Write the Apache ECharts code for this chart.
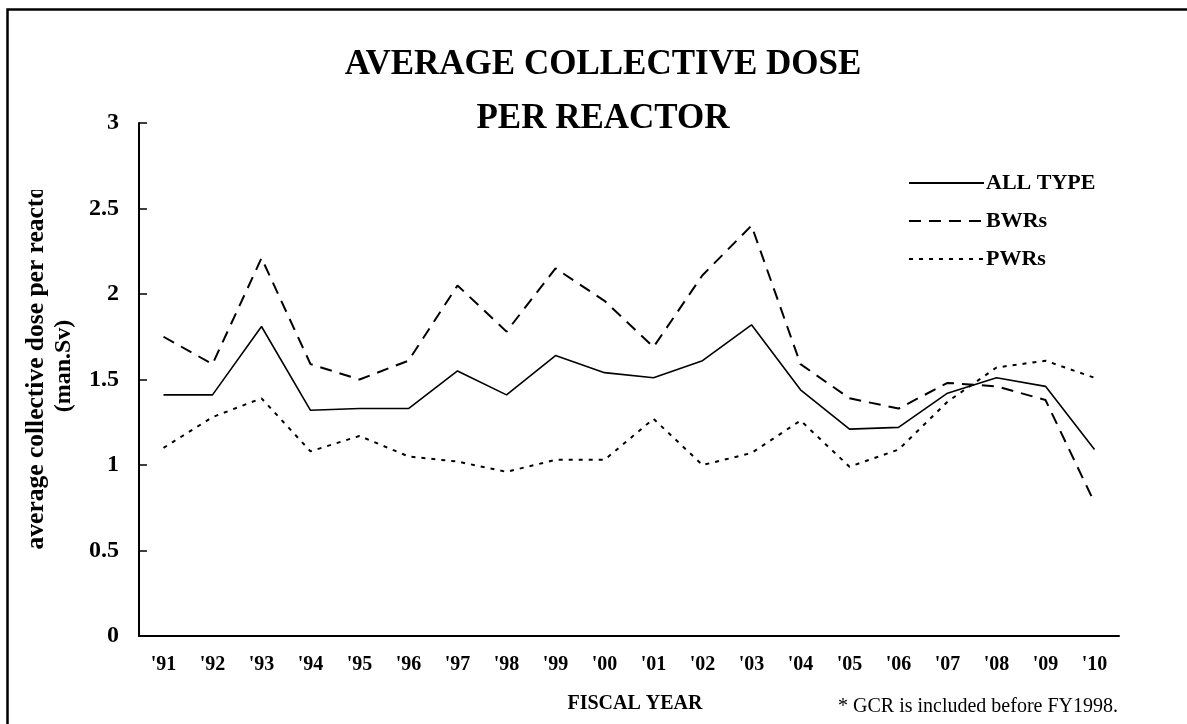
<!DOCTYPE html>
<html>
<head>
<meta charset="utf-8">
<script src="https://cdn.jsdelivr.net/npm/echarts@6/dist/echarts.min.js"></script>
<style>
html,body{margin:0;padding:0;background:#fff;}
#chart{width:1187px;height:724px;}
</style>
</head>
<body>
<div id="chart"></div>
<script>
var categories = ["'91","'92","'93","'94","'95","'96","'97","'98","'99","'00","'01","'02","'03","'04","'05","'06","'07","'08","'09","'10"];
var allType = [1.41, 1.41, 1.81, 1.32, 1.33, 1.33, 1.55, 1.41, 1.64, 1.54, 1.51, 1.61, 1.82, 1.44, 1.21, 1.22, 1.42, 1.51, 1.46, 1.09];
var bwrs    = [1.75, 1.59, 2.21, 1.59, 1.50, 1.61, 2.05, 1.78, 2.15, 1.96, 1.69, 2.11, 2.40, 1.59, 1.39, 1.33, 1.48, 1.46, 1.38, 0.78];
var pwrs    = [1.10, 1.28, 1.39, 1.08, 1.17, 1.05, 1.02, 0.96, 1.03, 1.03, 1.27, 1.00, 1.07, 1.26, 0.99, 1.09, 1.37, 1.57, 1.61, 1.51];
var seriesNames = ['ALL TYPE', 'BWRs', 'PWRs'];
var yTicks = {min: 0, max: 3, interval: 0.5};

var FONT = '"Liberation Serif", "Times New Roman", serif';
var chart = echarts.init(document.getElementById('chart'), null, {renderer: 'canvas'});
chart.setOption({
  animation: false,
  backgroundColor: '#fff',
  title: {
    text: 'AVERAGE COLLECTIVE DOSE\nPER REACTOR',
    left: 603, top: 38, textAlign: 'center', padding: 0,
    textStyle: {fontFamily: FONT, fontWeight: 'bold', fontSize: 35, lineHeight: 54, color: '#000'}
  },
  legend: {
    orient: 'vertical', left: 908, top: 172, padding: 0,
    itemWidth: 75, itemHeight: 14, itemGap: 16,
    data: seriesNames,
    itemStyle: {opacity: 0, borderWidth: 0},
    textStyle: {fontFamily: FONT, fontWeight: 'bold', fontSize: 22, lineHeight: 22, color: '#000', padding: [0,0,0,-3]}
  },
  grid: {left: 139, right: 68, top: 123, bottom: 88, containLabel: false},
  xAxis: {
    type: 'category', data: categories, boundaryGap: true,
    axisLine: {lineStyle: {color: '#000', width: 2}},
    axisTick: {inside: true, length: 6, lineStyle: {color: '#000', width: 1.5}},
    axisLabel: {margin: 19, fontFamily: FONT, fontWeight: 'bold', fontSize: 20, color: '#000', interval: 0},
    splitLine: {show: false}
  },
  yAxis: {
    type: 'value', min: yTicks.min, max: yTicks.max, interval: yTicks.interval,
    axisLine: {show: true, lineStyle: {color: '#000', width: 2}},
    axisTick: {show: true, inside: true, length: 8, lineStyle: {color: '#000', width: 1.5}},
    axisLabel: {margin: 20, fontFamily: FONT, fontWeight: 'bold', fontSize: 24, color: '#000'},
    splitLine: {show: false}
  },
  series: [
    {name: seriesNames[0], type: 'line', data: allType, symbol: 'none',
     lineStyle: {color: '#000', width: 1.6, type: 'solid'}, itemStyle: {color: '#000'}},
    {name: seriesNames[1], type: 'line', data: bwrs, symbol: 'none',
     lineStyle: {color: '#000', width: 2, type: [12, 8]}, itemStyle: {color: '#000'}},
    {name: seriesNames[2], type: 'line', data: pwrs, symbol: 'none',
     lineStyle: {color: '#000', width: 2, type: [4, 6]}, itemStyle: {color: '#000'}}
  ],
  graphic: [
    {type: 'rect', z: 100, silent: true,
     shape: {x: 7.5, y: 9.5, width: 1300, height: 1000},
     style: {fill: 'none', stroke: '#000', lineWidth: 2.5}},
    {type: 'text', z: 50, x: 36, y: 362, rotation: Math.PI / 2,
     style: {text: 'average collective dose per reactor', align: 'center', verticalAlign: 'middle',
             font: 'bold 25.5px ' + FONT, fill: '#000'}},
    {type: 'text', z: 50, x: 64, y: 366, rotation: Math.PI / 2,
     style: {text: '(man.Sv)', align: 'center', verticalAlign: 'middle',
             font: 'bold 24px ' + FONT, fill: '#000'}},
    {type: 'rect', z: 60, silent: true,
     shape: {x: 12, y: 120, width: 38, height: 70},
     style: {fill: '#fff'}},
    {type: 'text', z: 50, x: 635, y: 704,
     style: {text: 'FISCAL YEAR', align: 'center', verticalAlign: 'middle',
             font: 'bold 20px ' + FONT, fill: '#000'}},
    {type: 'text', z: 50, x: 1118, y: 707,
     style: {text: '* GCR is included before FY1998.', align: 'right', verticalAlign: 'middle',
             font: '20px ' + FONT, fill: '#000'}}
  ]
});
</script>
</body>
</html>
